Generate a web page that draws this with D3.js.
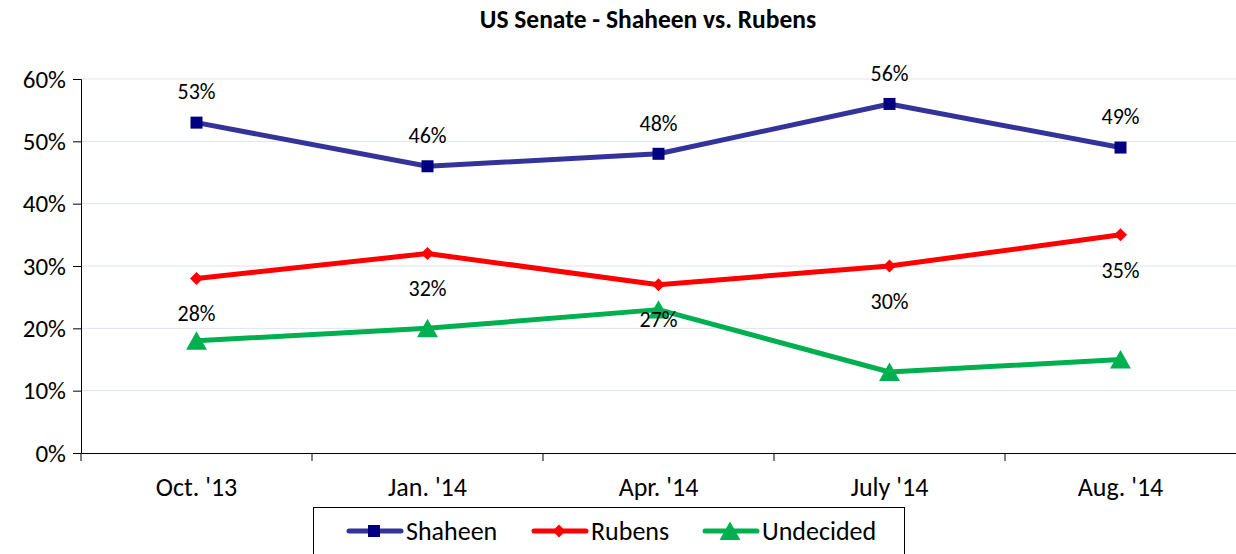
<!DOCTYPE html>
<html>
<head>
<meta charset="utf-8">
<script src="https://cdn.jsdelivr.net/npm/d3@7"></script>
<style>
  body { margin: 0; background: #fff; }
  text { font-family: Carlito, "Open Sans", "Noto Sans", sans-serif; }
</style>
</head>
<body>
<svg id="chart" width="1236" height="554"></svg>
<script>
const categories = ["Oct. '13", "Jan. '14", "Apr. '14", "July '14", "Aug. '14"];
const shaheen = [53, 46, 48, 56, 49];
const rubens = [28, 32, 27, 30, 35];
const undecided = [18, 20, 23, 13, 15];
const yTicks = [0, 10, 20, 30, 40, 50, 60];

const series = [
    { name: 'Shaheen', values: shaheen, line: '#333399', fill: '#000080', marker: 'square', labels: true, dy: -31 },
    { name: 'Rubens', values: rubens, line: '#ff0000', fill: '#ff0000', marker: 'diamond', labels: true, dy: 35 },
    { name: 'Undecided', values: undecided, line: '#00b050', fill: '#00b050', marker: 'triangle', labels: false, dy: 0 }
];

const svg = d3.select('#chart');
const m = { l: 81, r: 0, t: 79, b: 101 };
const W = 1236, H = 554;
const fontStack = 'Carlito, "Open Sans", sans-serif';

const x = d3.scaleBand().domain(categories).range([m.l, W - m.r]);
const y = d3.scaleLinear().domain([0, 60]).range([H - m.b, m.t]);

svg.append('text')
    .attr('x', 648).attr('y', 28)
    .attr('text-anchor', 'middle')
    .attr('font-size', 25.5).attr('font-weight', 'bold')
    .text('US Senate - Shaheen vs. Rubens');

// gridlines
svg.append('g').selectAll('line')
    .data(yTicks.filter(d => d > 0))
    .enter().append('line')
        .attr('x1', m.l).attr('x2', W)
        .attr('y1', d => y(d)).attr('y2', d => y(d))
        .attr('stroke', '#dde3f0').attr('stroke-width', 1);

// y axis
const yAxis = svg.append('g')
    .attr('transform', 'translate(' + m.l + ',0)')
    .call(d3.axisLeft(y).tickValues(yTicks).tickFormat(d => d + '%').tickSize(8).tickPadding(7));
yAxis.select('.domain').attr('stroke', '#000');
yAxis.selectAll('text').attr('font-size', 25).attr('fill', '#000').style('font-family', fontStack);

// x axis
const xAxis = svg.append('g')
    .attr('transform', 'translate(0,' + y(0) + ')')
    .call(d3.axisBottom(x).tickSize(0).tickPadding(25));
xAxis.select('.domain').attr('stroke', '#000');
xAxis.selectAll('text').attr('font-size', 26).attr('fill', '#000').style('font-family', fontStack);
// category boundary ticks
xAxis.selectAll('.bound')
    .data(categories.slice(1))
    .enter().append('line')
        .attr('x1', d => x(d)).attr('x2', d => x(d))
        .attr('y1', 0).attr('y2', 8)
        .attr('stroke', '#000');
xAxis.append('line')
    .attr('x1', m.l).attr('x2', m.l).attr('y1', 0).attr('y2', 8).attr('stroke', '#000');

function markerPath(type, s) {
    if (type === 'square') return d3.symbol(d3.symbolSquare, s * s)();
    if (type === 'diamond') return 'M0,' + (-s / 2) + 'L' + (s / 2) + ',0L0,' + (s / 2) + 'L' + (-s / 2) + ',0Z';
    return 'M0,' + (-s * 0.5) + 'L' + (s * 0.55) + ',' + (s * 0.47) + 'L' + (-s * 0.55) + ',' + (s * 0.47) + 'Z';
}
const markerSize = { square: 12, diamond: 13, triangle: 19 };

const line = d3.line()
    .x((d, i) => x(categories[i]) + x.bandwidth() / 2)
    .y(d => y(d));

series.forEach(function(s) {
    const g = svg.append('g');
    g.append('path')
        .attr('d', line(s.values))
        .attr('fill', 'none')
        .attr('stroke', s.line)
        .attr('stroke-width', 5)
        .attr('stroke-linejoin', 'round');
    g.selectAll('path.mk')
        .data(s.values)
        .enter().append('path')
            .attr('class', 'mk')
            .attr('d', markerPath(s.marker, markerSize[s.marker]))
            .attr('transform', (d, i) => 'translate(' + (x(categories[i]) + x.bandwidth() / 2) + ',' + y(d) + ')')
            .attr('fill', s.fill);
});

// data labels
series.filter(s => s.labels).forEach(function(s) {
    svg.append('g').selectAll('text')
        .data(s.values)
        .enter().append('text')
            .attr('x', (d, i) => x(categories[i]) + x.bandwidth() / 2)
            .attr('y', d => y(d) + s.dy)
            .attr('dy', '0.35em')
            .attr('text-anchor', 'middle')
            .attr('font-size', 22)
            .text(d => d + '%');
});

// legend
const lg = svg.append('g');
lg.append('rect')
    .attr('x', 313.5).attr('y', 507.5).attr('width', 591).attr('height', 60)
    .attr('fill', '#fff').attr('stroke', '#000').attr('stroke-width', 1);
const legendX = [347, 532, 703];
series.forEach(function(s, i) {
    const lx = legendX[i], ly = 531;
    lg.append('line')
        .attr('x1', lx + 2).attr('x2', lx + 54).attr('y1', ly).attr('y2', ly)
        .attr('stroke', s.line).attr('stroke-width', 5).attr('stroke-linecap', 'round');
    lg.append('path')
        .attr('d', markerPath(s.marker, markerSize[s.marker]))
        .attr('transform', 'translate(' + (lx + 27) + ',' + ly + ')')
        .attr('fill', s.fill);
    lg.append('text')
        .attr('x', lx + 59).attr('y', ly).attr('dy', '0.35em')
        .attr('font-size', 26)
        .text(s.name);
});
</script>
</body>
</html>
